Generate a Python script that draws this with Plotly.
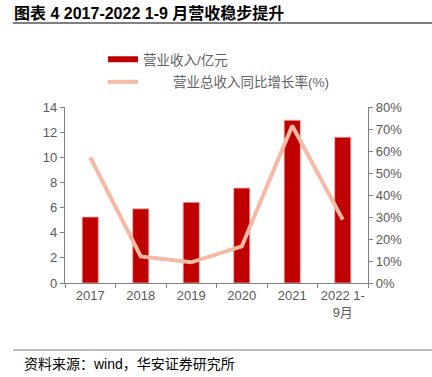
import plotly.graph_objects as go

categories = ["2017", "2018", "2019", "2020", "2021", "2022 1-<br>9月"]
revenue = [5.25, 5.9, 6.42, 7.55, 12.95, 11.6]
growth = [0.571, 0.121, 0.094, 0.166, 0.715, 0.288]

bar_name = "营业收入/亿元"
line_name = "\u00a0" * 8 + "营业总收入同比增长率(%)"

W, H = 432, 377
ML, MR, MT, MB = 65, 64, 107, 94
PW, PH = W - ML - MR, H - MT - MB

def px_x(px):
    return (px - ML) / PW

def px_y(py):
    return (H - MB - py) / PH

tick_font = dict(family="Liberation Sans, Arial, sans-serif", size=13, color="#595959")
cjk = "Liberation Sans, Noto Sans CJK SC, sans-serif"

fig = go.Figure()
fig.add_trace(go.Bar(
    x=categories, y=revenue, name=bar_name, showlegend=False,
    marker=dict(color="#C00000", line=dict(color="#F2AFAF", width=0.8)),
    width=0.32, yaxis="y",
))
# legend proxy for the bar series (wide rectangle like the reference)
fig.add_trace(go.Scatter(
    x=[None], y=[None], mode="lines", name=bar_name, legendgroup="a",
    line=dict(color="#C00000", width=6), yaxis="y",
))
fig.add_trace(go.Scatter(
    x=categories, y=growth, mode="lines", name=line_name, legendgroup="b",
    line=dict(color="#F6B9A3", width=4), yaxis="y2",
))

axis_line = "#808080"
fig.update_layout(
    width=W, height=H,
    margin=dict(l=ML, r=MR, t=MT, b=MB, autoexpand=False),
    paper_bgcolor="white", plot_bgcolor="white",
    showlegend=True,
    legend=dict(
        x=px_x(103), y=px_y(44), xanchor="left", yanchor="top",
        font=dict(family=cjk, size=13.5, color="#636363"),
        bgcolor="rgba(0,0,0,0)", tracegroupgap=2, traceorder="grouped",
        itemwidth=30,
    ),
    xaxis=dict(
        type="category", showgrid=False, showline=True, linecolor=axis_line, linewidth=1.3,
        ticks="outside", tickson="boundaries", ticklen=4, tickcolor=axis_line,
        tickangle=0, automargin=False,
        tickfont=dict(family=cjk, size=13, color="#595959"),
    ),
    yaxis=dict(
        range=[0, 14], dtick=2, showgrid=False, showline=True, linecolor=axis_line, linewidth=1.3,
        ticks="outside", ticklen=4, tickcolor=axis_line, tickfont=tick_font, zeroline=False,
        automargin=False,
    ),
    yaxis2=dict(
        range=[0, 0.8], dtick=0.1, tickformat=".0%", overlaying="y", side="right",
        showgrid=False, showline=True, linecolor=axis_line, linewidth=1.3,
        ticks="outside", ticklen=4, tickcolor=axis_line, tickfont=tick_font, zeroline=False,
        automargin=False,
    ),
    title=dict(
        text="<b>图表 4 2017-2022 1-9 月营收稳步提升</b>",
        xref="container", yref="container", x=14 / W, xanchor="left",
        y=1 - 13 / H, yanchor="middle",
        font=dict(family="Liberation Sans, Noto Sans CJK SC, sans-serif", size=16, color="#000000"),
    ),
    shapes=[
        dict(type="line", xref="paper", yref="paper", x0=px_x(13), x1=px_x(432),
             y0=px_y(23), y1=px_y(23), line=dict(color="#7F7F7F", width=2.2)),
        dict(type="line", xref="paper", yref="paper", x0=px_x(13), x1=px_x(432),
             y0=px_y(350), y1=px_y(350), line=dict(color="#7F7F7F", width=1)),
    ],
    annotations=[
        dict(text="资料来源：wind，华安证券研究所", xref="paper", yref="paper",
             x=px_x(22), y=px_y(364), xanchor="left", yanchor="middle", showarrow=False,
             font=dict(family="Liberation Sans, Noto Sans CJK SC, sans-serif", size=14, color="#000000")),
    ],
)

fig.write_html(
    "out.html",
    config={"displayModeBar": False},
    post_script="document.body.style.margin='0';document.body.style.overflow='hidden';",
)
